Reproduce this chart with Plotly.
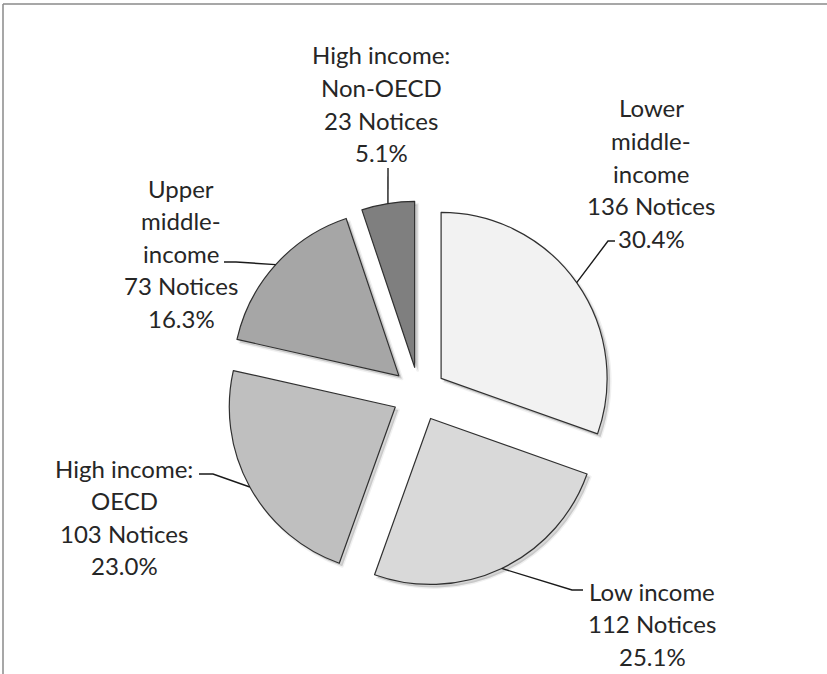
import math
import plotly.graph_objects as go

# ---- data ----
categories = ["Lower middle-income", "Low income", "High income: OECD",
              "Upper middle-income", "High income: Non-OECD"]
notices = [136, 112, 103, 73, 23]
label_lines = [["Lower", "middle-", "income"],
               ["Low income"],
               ["High income:", "OECD"],
               ["Upper", "middle-", "income"],
               ["High income:", "Non-OECD"]]
colors = ["#f2f2f2", "#d9d9d9", "#bfbfbf", "#a6a6a6", "#7f7f7f"]

# ---- layout config (pixels) ----
W, H = 827, 674
CX, CY, R, PULL = 419, 394, 166, 0.163
SHADOW_DX, SHADOW_DY = 3, 3
LINE_H = 32.5
FONT = dict(family="Lato, Carlito, Calibri, sans-serif", size=24, color="#262626")
label_pos = [(651, 108), (652, 591), (124, 468), (181, 188), (381, 55)]
leader_knees = [[(615, 241), (608, 241)],
                [(583, 590), (572, 590)],
                [(199, 474), (213, 474)],
                [(224, 262), (236, 262)],
                [(388, 168)]]


def px(x, y):
    return x / W, 1 - y / H


half = R * (1 + PULL)


def pie_domain(cx, cy):
    return dict(x=[(cx - half) / W, (cx + half) / W],
                y=[1 - (cy + half) / H, 1 - (cy - half) / H])


fig = go.Figure()
# soft drop shadow behind the slices
fig.add_trace(go.Pie(
    labels=categories, values=notices, sort=False, direction="clockwise",
    rotation=0, pull=[PULL] * len(notices), textinfo="none", hoverinfo="skip",
    marker=dict(colors=["rgba(0,0,0,0.16)"] * len(notices),
                line=dict(color="rgba(0,0,0,0.06)", width=3)),
    domain=pie_domain(CX + SHADOW_DX, CY + SHADOW_DY), showlegend=False,
))
fig.add_trace(go.Pie(
    labels=categories, values=notices, sort=False, direction="clockwise",
    rotation=0, pull=[PULL] * len(notices), textinfo="none", hoverinfo="label+value+percent",
    marker=dict(colors=colors, line=dict(color="#303030", width=1.2)),
    domain=pie_domain(CX, CY), showlegend=False,
))

total = sum(notices)
annotations = []
shapes = []
cum = 0
for i, v in enumerate(notices):
    pct = v / total * 100
    lines = label_lines[i] + [f"{v} Notices", f"{pct:.1f}%"]
    lx, ly = label_pos[i]
    for j, t in enumerate(lines):
        x, y = px(lx, ly + j * LINE_H)
        annotations.append(dict(x=x, y=y, xref="paper", yref="paper", text=t,
                                showarrow=False, xanchor="center", yanchor="middle",
                                font=FONT))
    mid = math.radians(360 * (cum + v / 2) / total)
    ax = CX + half * math.sin(mid)
    ay = CY - half * math.cos(mid)
    pts = leader_knees[i] + [(ax, ay)]
    path = ""
    for k, (x0, y0) in enumerate(pts):
        xx, yy = px(x0, y0)
        path += ("M" if k == 0 else " L") + f" {xx:.5f} {yy:.5f}"
    shapes.append(dict(type="path", path=path, xref="paper", yref="paper",
                       line=dict(color="#1a1a1a", width=1.4)))
    cum += v

# outer frame (top and left edges visible)
x0, y0 = px(3, 4)
shapes.append(dict(type="line", xref="paper", yref="paper", x0=x0, y0=y0, x1=1.01, y1=y0,
                   line=dict(color="#8a8a8a", width=1.5)))
shapes.append(dict(type="line", xref="paper", yref="paper", x0=x0, y0=y0, x1=x0, y1=-0.01,
                   line=dict(color="#8a8a8a", width=1.5)))

fig.update_layout(width=W, height=H, margin=dict(l=0, r=0, t=0, b=0),
                  paper_bgcolor="white", plot_bgcolor="white",
                  annotations=annotations, shapes=shapes)
fig.write_html("out.html")
